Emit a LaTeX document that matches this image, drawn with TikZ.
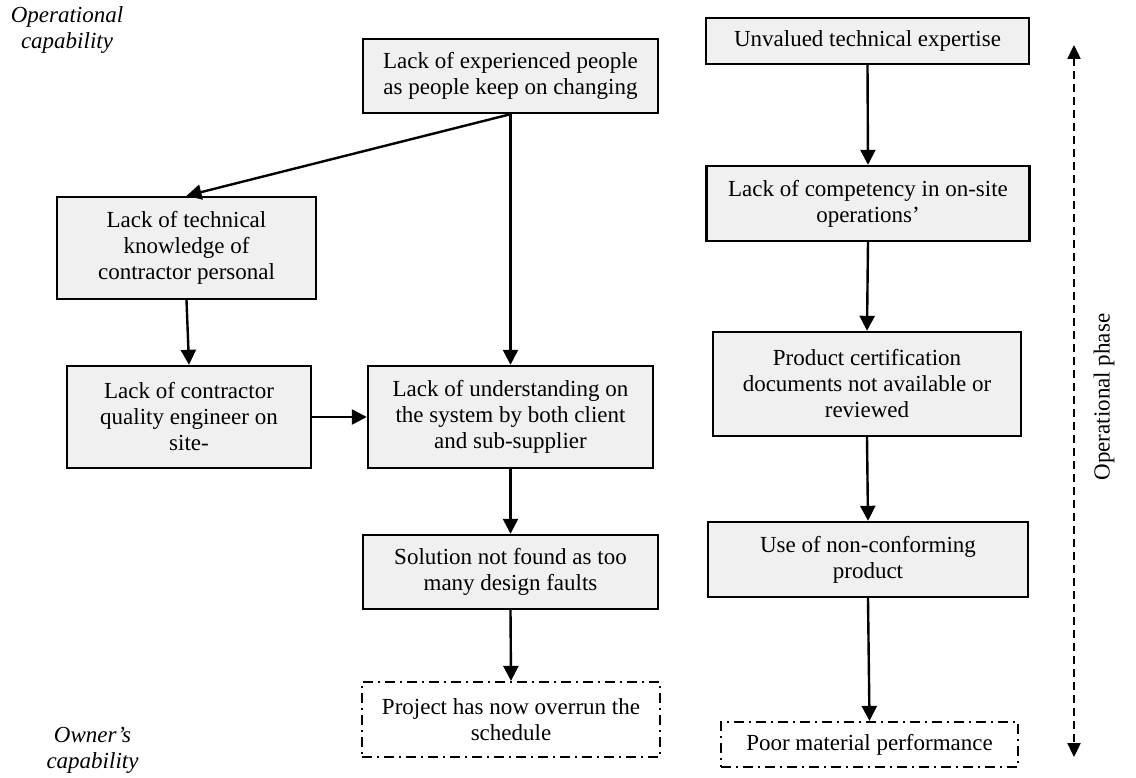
\documentclass[tikz,border=0pt]{standalone}
\usepackage{fontspec}
\setmainfont{Liberation Serif}
\usetikzlibrary{arrows.meta}
\begin{document}
\begin{tikzpicture}[x=1pt,y=-1pt,
  every node/.style={font=\fontsize{23}{26}\selectfont},
  box/.style={draw=black,line width=2.4pt,fill={rgb,255:red,240;green,240;blue,240},align=center,inner sep=0pt},
  endbox/.style={draw=black,line width=2.2pt,dash pattern=on 10pt off 5pt on 2pt off 5pt,align=center,inner sep=0pt},
  conn/.style={line width=2.4pt,-{Triangle[length=15pt,width=15pt]}},
  side/.style={font=\itshape\fontsize{23}{26}\selectfont,align=center}
]
\useasboundingbox (0,0) rectangle (1136,778);

\node[box,minimum width=295pt,minimum height=74pt] (A) at (510.5,76) {Lack of experienced people\\as people keep on changing};
\node[box,minimum width=259pt,minimum height=102pt] (B) at (186.5,248) {Lack of technical\\knowledge of\\contractor personal};
\node[box,minimum width=244pt,minimum height=102pt] (C) at (189,417) {Lack of contractor\\quality engineer on\\site-};
\node[box,minimum width=285pt,minimum height=102pt] (D) at (510.5,417) {Lack of understanding on\\the system by both client\\and sub-supplier};
\node[box,minimum width=295pt,minimum height=74pt] (E) at (510.5,572) {Solution not found as too\\many design faults};
\node[endbox,minimum width=298pt,minimum height=75pt] (F) at (511,719.5) {Project has now overrun the\\schedule};

\node[box,minimum width=323pt,minimum height=46pt] (U) at (867.5,41) {Unvalued technical expertise};
\node[box,minimum width=323pt,minimum height=75pt] (K) at (868,203.5) {Lack of competency in on-site\\operations’};
\node[box,minimum width=308pt,minimum height=104pt] (P) at (867,384) {Product certification\\documents not available or\\reviewed};
\node[box,minimum width=320pt,minimum height=75pt] (N) at (868,559.5) {Use of non-conforming\\product};
\node[endbox,minimum width=297pt,minimum height=45pt] (M) at (869.5,744.5) {Poor material performance};

\node[side] (oc) at (67,30) {Operational\\capability};
\node[side] (ow) at (92.5,750) {Owner’s\\capability};
\node[rotate=90] (ph) at (1104,397) {Operational phase};

\coordinate (t1) at (1074,45);
\coordinate (t2) at (1074,757);

\draw[conn] (A.south) -- (B.north);
\draw[conn] (A.south) -- (D.north);
\draw[conn] (B.south) -- (C.north);
\draw[conn] (C.east) -- (D.west);
\draw[conn] (D.south) -- (E.north);
\draw[conn] (E.south) -- (F.north);
\draw[conn] (U.south) -- (K.north);
\draw[conn] (K.south) -- (P.north);
\draw[conn] (P.south) -- (N.north);
\draw[conn] (N.south) -- (M.north);
\draw[line width=2.4pt,dash pattern=on 8pt off 5pt,{Triangle[length=14pt,width=13pt]}-{Triangle[length=14pt,width=13pt]}] (t1) -- (t2);
\end{tikzpicture}
\end{document}
